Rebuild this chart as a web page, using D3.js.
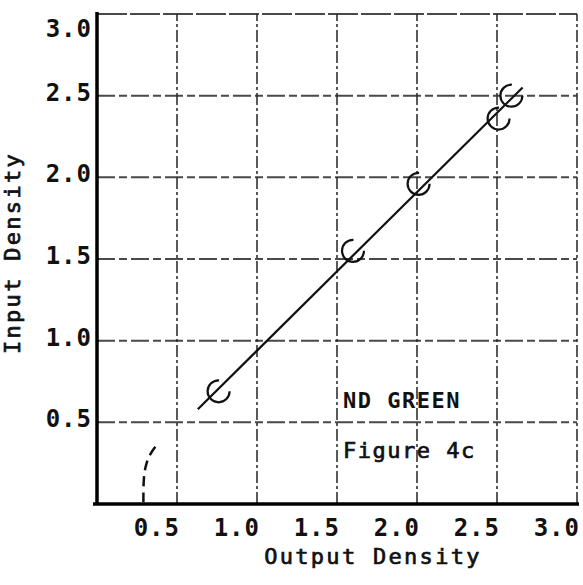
<!DOCTYPE html>
<html>
<head>
<meta charset="utf-8">
<script src="https://cdnjs.cloudflare.com/ajax/libs/d3/7.8.5/d3.min.js"></script>
<style>
  body { margin: 0; background: #fff; }
  svg { display: block; }
  text { font-family: "DejaVu Sans Mono", monospace; fill: #111; }
</style>
</head>
<body>
<script>
var width = 583,
    height = 585;

// measured points (output density, input density)
var pointsX = [0.76, 1.60, 2.01, 2.51, 2.59];
var pointsY = [0.69, 1.55, 1.96, 2.36, 2.50];
// hand drawn fit line
var fitX = [0.63, 2.66];
var fitY = [0.58, 2.55];
// little dashed curve near the origin
var curveX = [0.29, 0.29, 0.31, 0.34, 0.38];
var curveY = [0.01, 0.17, 0.26, 0.32, 0.37];

var xTicks = [0.5, 1.0, 1.5, 2.0, 2.5, 3.0];
var yTicks = [0.5, 1.0, 1.5, 2.0, 2.5, 3.0];
var xTitle = "Output Density";
var yTitle = "Input Density";
var notes = ["ND GREEN", "Figure 4c"];

var margin = {top: 14, right: 6, bottom: 81, left: 97};

var x = d3.scaleLinear().domain([0, 3]).range([margin.left, width - margin.right]);
var y = d3.scaleLinear().domain([0, 3]).range([height - margin.bottom, margin.top]);

var svg = d3.select("body").append("svg")
    .attr("width", width)
    .attr("height", height);

// grid
svg.selectAll(".hgrid")
    .data(yTicks)
    .enter().append("line")
    .attr("class", "hgrid")
    .attr("x1", x(0))
    .attr("x2", x(3))
    .attr("y1", function(d) { return y(d); })
    .attr("y2", function(d) { return y(d); })
    .style("stroke", "#2a2a2a")
    .style("stroke-width", 2)
    .style("stroke-dasharray", function(d) { return d == 3 ? "30,3" : "18,4,8,4"; })
    .style("opacity", 0.85);

svg.selectAll(".vgrid")
    .data(xTicks)
    .enter().append("line")
    .attr("class", "vgrid")
    .attr("y1", y(0))
    .attr("y2", y(3))
    .attr("x1", function(d) { return x(d); })
    .attr("x2", function(d) { return x(d); })
    .style("stroke", "#2a2a2a")
    .style("stroke-width", 1.8)
    .style("stroke-dasharray", "12,3,3,3")
    .style("opacity", 0.85);

// axes lines
svg.append("line")
    .attr("x1", x(0)).attr("x2", x(0))
    .attr("y1", y(3) - 2).attr("y2", y(0) + 1)
    .style("stroke", "#000").style("stroke-width", 3.5);
svg.append("line")
    .attr("x1", x(0) - 4).attr("x2", x(3) + 2)
    .attr("y1", y(0)).attr("y2", y(0))
    .style("stroke", "#000").style("stroke-width", 3.5);

// tick labels
svg.selectAll(".xlab")
    .data(xTicks)
    .enter().append("text")
    .attr("class", "xlab")
    .attr("x", function(d) { return x(d) + 3; })
    .attr("y", y(0) + 32)
    .attr("text-anchor", "end")
    .style("font-size", "24px")
    .style("font-weight", "bold")
    .style("letter-spacing", "1px")
    .text(function(d) { return d.toFixed(1); });

svg.selectAll(".ylab")
    .data(yTicks)
    .enter().append("text")
    .attr("class", "ylab")
    .attr("x", x(0) - 5)
    .attr("y", function(d) { return Math.max(y(d) + 5, 37); })
    .attr("text-anchor", "end")
    .style("font-size", "24px")
    .style("font-weight", "bold")
    .style("letter-spacing", "1px")
    .text(function(d) { return d.toFixed(1); });

// titles
svg.append("text")
    .attr("x", 373)
    .attr("y", 564)
    .attr("text-anchor", "middle")
    .style("font-size", "22px")
    .style("letter-spacing", "2.3px")
    .style("stroke", "#111")
    .style("stroke-width", 0.7)
    .text(xTitle);

svg.append("text")
    .attr("transform", "translate(20,253) rotate(-90)")
    .attr("text-anchor", "middle")
    .style("font-size", "22px")
    .style("letter-spacing", "2.3px")
    .style("stroke", "#111")
    .style("stroke-width", 0.7)
    .text(yTitle);

// notes
svg.selectAll(".note")
    .data(notes)
    .enter().append("text")
    .attr("class", "note")
    .attr("x", 343)
    .attr("y", function(d, i) { return 408 + i * 50; })
    .style("font-size", "22px")
    .style("font-weight", function(d, i) { return i == 0 ? "bold" : "normal"; })
    .style("stroke", "#111")
    .style("stroke-width", function(d, i) { return i == 0 ? 0 : 0.7; })
    .style("letter-spacing", "1.5px")
    .text(function(d) { return d; });

// fit line
svg.append("line")
    .attr("x1", x(fitX[0])).attr("y1", y(fitY[0]))
    .attr("x2", x(fitX[1])).attr("y2", y(fitY[1]))
    .style("stroke", "#111")
    .style("stroke-width", 2.2);

// dashed curve
var curve = d3.line()
    .x(function(d) { return x(d[0]); })
    .y(function(d) { return y(d[1]); })
    .curve(d3.curveBasis);

svg.append("path")
    .datum(d3.zip(curveX, curveY))
    .attr("d", curve)
    .style("fill", "none")
    .style("stroke", "#111")
    .style("stroke-width", 2.5)
    .style("stroke-dasharray", "10,6");

// circles
svg.selectAll(".pt")
    .data(d3.zip(pointsX, pointsY))
    .enter().append("circle")
    .attr("class", "pt")
    .attr("cx", function(d) { return x(d[0]); })
    .attr("cy", function(d) { return y(d[1]); })
    .attr("r", 11)
    .style("fill", "none")
    .style("stroke", "#111")
    .style("stroke-width", 2.2)
    .style("stroke-dasharray", "52,17");
</script>
</body>
</html>
